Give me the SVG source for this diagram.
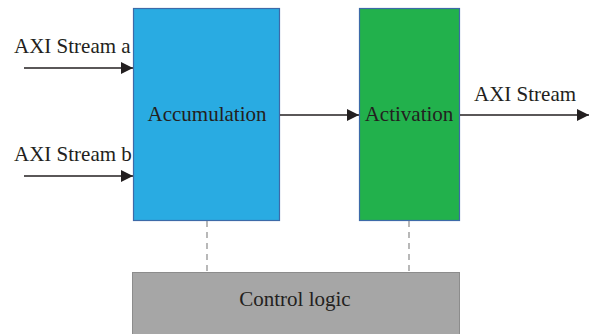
<svg xmlns="http://www.w3.org/2000/svg" width="591" height="334" viewBox="0 0 591 334">
  <style>
    .lbl { font-family: "Liberation Serif", "Times New Roman", serif; font-size: 21px; fill: #231f20; }
    .wire { stroke: #231f20; stroke-width: 1.6; fill: none; }
    .dash { stroke: #8a8a8a; stroke-width: 1.2; stroke-dasharray: 6 5; fill: none; }
  </style>
  <defs>
    <marker id="arrow" viewBox="0 0 10 10" refX="10" refY="5" markerWidth="12" markerHeight="12" markerUnits="userSpaceOnUse" orient="auto">
      <path d="M0,0 L10,5 L0,10 Z" fill="#231f20"/>
    </marker>
  </defs>
  <rect width="591" height="334" fill="#ffffff"/>

  <g id="control-logic">
    <rect x="132.5" y="272.5" width="327" height="70" fill="#a6a6a6" stroke="#8c8c8c" stroke-width="1"/>
    <text class="lbl" x="295" y="306" text-anchor="middle">Control logic</text>
  </g>

  <g id="accumulation">
    <rect x="133.5" y="8.5" width="146" height="212" fill="#29abe2" stroke="#3d6aa8" stroke-width="1.2"/>
    <text class="lbl" x="207" y="121" text-anchor="middle">Accumulation</text>
  </g>

  <g id="activation">
    <rect x="359.5" y="8.5" width="100" height="212" fill="#22b14c" stroke="#3d6aa8" stroke-width="1.2"/>
    <text class="lbl" x="409" y="121" text-anchor="middle">Activation</text>
  </g>

  <g id="connectors">
    <line class="wire" x1="24" y1="68" x2="133" y2="68" marker-end="url(#arrow)"/>
    <line class="wire" x1="24" y1="176" x2="133" y2="176" marker-end="url(#arrow)"/>
    <line class="wire" x1="280" y1="115" x2="359" y2="115" marker-end="url(#arrow)"/>
    <line class="wire" x1="460" y1="115" x2="589" y2="115" marker-end="url(#arrow)"/>
    <line class="dash" x1="207" y1="221" x2="207" y2="272"/>
    <line class="dash" x1="409" y1="221" x2="409" y2="272"/>
    <text class="lbl" x="14" y="53">AXI Stream a</text>
    <text class="lbl" x="14" y="161">AXI Stream b</text>
    <text class="lbl" x="474" y="101">AXI Stream</text>
  </g>
</svg>
